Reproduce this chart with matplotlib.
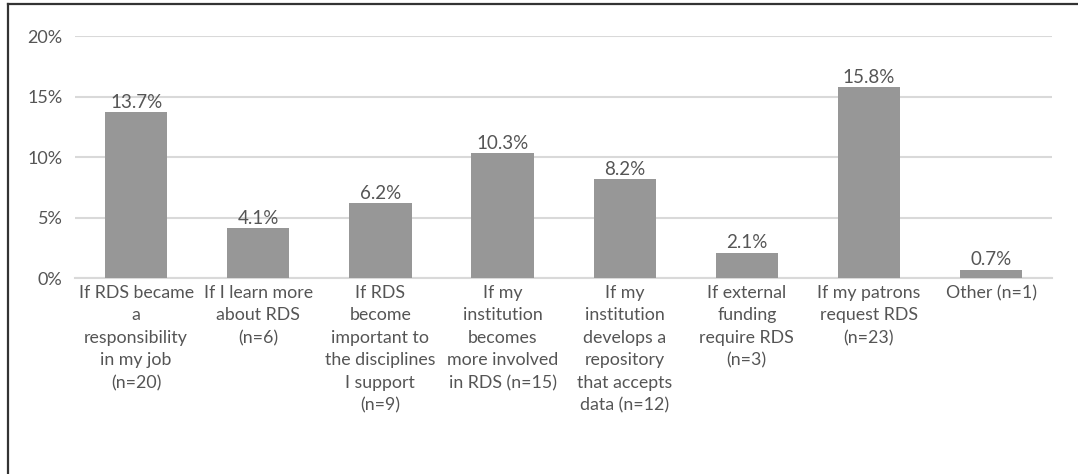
import matplotlib
matplotlib.use("Agg")
import matplotlib.pyplot as plt
from matplotlib.lines import Line2D

categories = [
    "If RDS became\na\nresponsibility\nin my job\n(n=20)",
    "If I learn more\nabout RDS\n(n=6)",
    "If RDS\nbecome\nimportant to\nthe disciplines\nI support\n(n=9)",
    "If my\ninstitution\nbecomes\nmore involved\nin RDS (n=15)",
    "If my\ninstitution\ndevelops a\nrepository\nthat accepts\ndata (n=12)",
    "If external\nfunding\nrequire RDS\n(n=3)",
    "If my patrons\nrequest RDS\n(n=23)",
    "Other (n=1)",
]
percentages = [13.7, 4.1, 6.2, 10.3, 8.2, 2.1, 15.8, 0.7]
yticks = [0, 5, 10, 15, 20]

plt.rcParams["font.family"] = ["Lato", "DejaVu Sans"]
text_color = "#555555"

fig = plt.figure(figsize=(10.78, 4.74), dpi=100)
ax = fig.add_axes([0.0696, 0.4135, 0.9064, 0.5105])

x = range(len(categories))
ax.bar(x, percentages, width=0.51, color="#979797", zorder=3)
for xi, v in zip(x, percentages):
    ax.text(xi, v + 0.1, f"{v:.1f}%", ha="center", va="bottom",
            fontsize=13.5, color=text_color)

ax.set_xlim(-0.5, len(categories) - 0.5)
ax.set_ylim(0, 20)
ax.set_yticks(yticks)
ax.set_yticklabels([f"{t}%" for t in yticks], fontsize=13, color=text_color)
ax.set_xticks(list(x))
ax.set_xticklabels(categories, fontsize=12.8, color=text_color, linespacing=1.5)
ax.tick_params(axis="both", length=0)
ax.tick_params(axis="y", pad=9)
ax.tick_params(axis="x", pad=5)
ax.yaxis.grid(True, color="#d9d9d9", linewidth=1.5, zorder=0)
for side in ["top", "right", "left"]:
    ax.spines[side].set_visible(False)
ax.spines["bottom"].set_color("#d9d9d9")
ax.spines["bottom"].set_linewidth(1.5)

# frame lines along the top and left edges of the figure
W, H = 1078, 474
fig.add_artist(Line2D([8 / W, 1], [1 - 4 / H, 1 - 4 / H], color="#333333",
                      linewidth=1.6, transform=fig.transFigure))
fig.add_artist(Line2D([8 / W, 8 / W], [0, 1 - 4 / H], color="#333333",
                      linewidth=1.6, transform=fig.transFigure))

fig.savefig("out.png", dpi=100, facecolor="white")
